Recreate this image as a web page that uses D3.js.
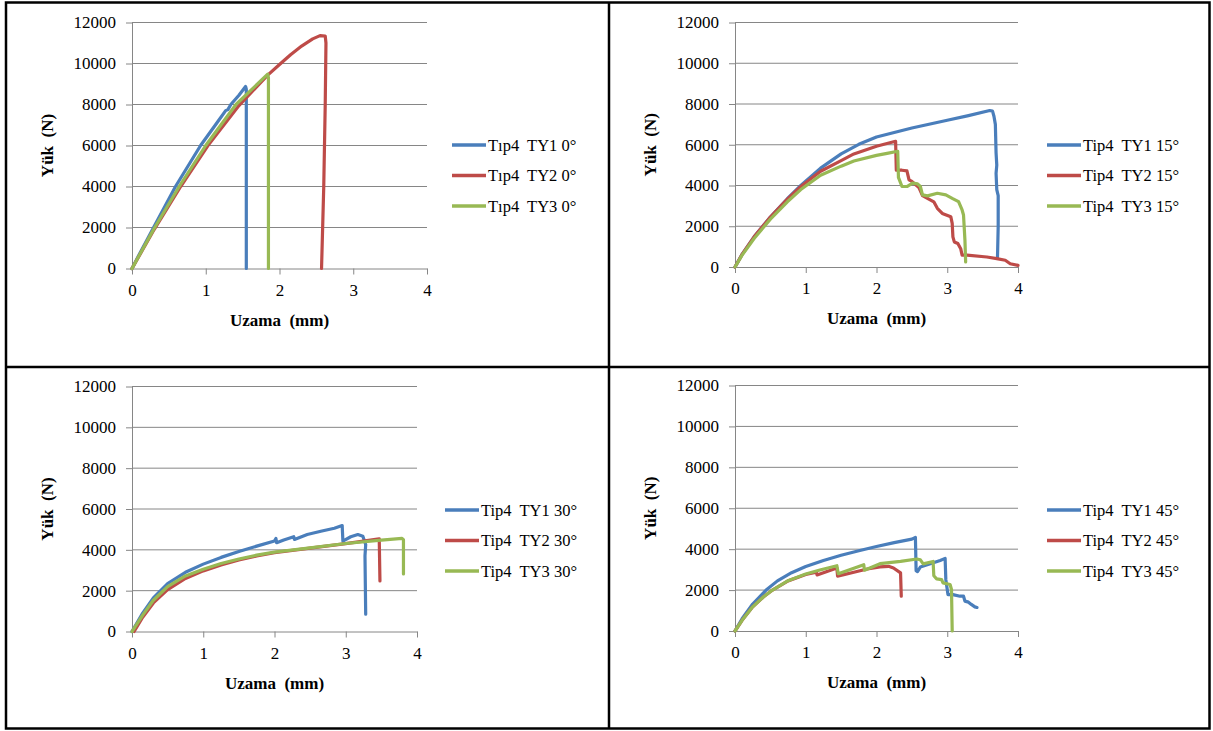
<!DOCTYPE html>
<html>
<head>
<meta charset="utf-8">
<script src="https://cdn.jsdelivr.net/npm/d3@7"></script>
<style>
  body { margin: 0; background: #fff; }
</style>
</head>
<body>
<svg id="fig" width="1213" height="731"></svg>
<script>
// ---- data ----
const xTicks = [0, 1, 2, 3, 4];
const yTicks = [0, 2000, 4000, 6000, 8000, 10000, 12000];
const seriesNames = ['TY1', 'TY2', 'TY3'];
const angles = ['0', '15', '30', '45'];
const prefixes = ['Tıp4', 'Tip4', 'Tip4', 'Tip4'];
const xTitle = 'Uzama  (mm)';
const yTitle = 'Yük  (N)';

// 0 degrees
const ty1_0 = [[0,0],[0.1,700],[0.3,2050],[0.59,4000],[0.93,6000],[1.15,7100],[1.27,7700],[1.3,7750],[1.34,8000],[1.45,8450],[1.54,8880],[1.55,8750],[1.55,0]];
const ty2_0 = [[0,0],[0.3,1900],[0.66,4000],[1.03,6000],[1.45,7950],[1.84,9430],[2.0,9950],[2.15,10430],[2.3,10850],[2.45,11200],[2.55,11360],[2.62,11340],[2.63,11000],[2.62,8000],[2.6,4000],[2.57,0]];
const ty3_0 = [[0,0],[0.3,1950],[0.64,4000],[1.0,6000],[1.41,8000],[1.84,9480],[1.85,9300],[1.85,0]];

// 15 degrees
const ty1_15 = [[0,0],[0.1,620],[0.27,1480],[0.5,2450],[0.74,3350],[0.93,4000],[1.21,4850],[1.5,5550],[1.75,6020],[2.0,6380],[2.5,6820],[3.0,7200],[3.3,7430],[3.6,7680],[3.64,7650],[3.66,7400],[3.68,7000],[3.69,5600],[3.7,5000],[3.69,4600],[3.7,3800],[3.72,3500],[3.72,2000],[3.71,450]];
const ty2_15 = [[0,0],[0.1,620],[0.27,1480],[0.5,2450],[0.74,3330],[0.93,3950],[1.21,4700],[1.5,5220],[1.68,5550],[2.0,5930],[2.27,6170],[2.28,4750],[2.36,4750],[2.43,4720],[2.46,4280],[2.5,4200],[2.6,3900],[2.65,3500],[2.72,3370],[2.81,3200],[2.86,2880],[2.93,2630],[3.05,2470],[3.07,2140],[3.08,1480],[3.1,1230],[3.15,1150],[3.19,900],[3.21,580],[3.28,580],[3.56,490],[3.7,410],[3.82,330],[3.89,160],[4.0,80]];
const ty3_15 = [[0,0],[0.1,580],[0.27,1400],[0.5,2350],[0.74,3200],[0.93,3800],[1.21,4500],[1.5,4950],[1.68,5200],[2.0,5480],[2.15,5580],[2.3,5680],[2.31,4400],[2.36,3950],[2.43,3950],[2.51,4120],[2.58,4080],[2.62,3950],[2.65,3540],[2.72,3490],[2.86,3620],[2.98,3540],[3.07,3370],[3.16,3210],[3.21,2800],[3.23,2550],[3.25,1320],[3.26,250]];

// 30 degrees
const ty1_30 = [[0,0],[0.15,900],[0.3,1650],[0.5,2350],[0.75,2900],[1.0,3300],[1.25,3630],[1.5,3920],[1.75,4180],[2.0,4430],[2.02,4560],[2.03,4350],[2.13,4480],[2.27,4640],[2.28,4510],[2.46,4750],[2.65,4910],[2.84,5060],[2.95,5190],[2.96,4430],[3.07,4640],[3.17,4750],[3.24,4670],[3.28,4260],[3.27,3700],[3.28,850]];
const ty2_30 = [[0.03,0],[0.15,700],[0.3,1400],[0.5,2050],[0.75,2600],[1.0,2970],[1.25,3260],[1.5,3500],[1.75,3700],[2.0,3860],[2.5,4080],[3.0,4300],[3.47,4540],[3.48,2480]];
const ty3_30 = [[0,0],[0.15,800],[0.3,1530],[0.5,2200],[0.75,2720],[1.0,3050],[1.25,3330],[1.5,3550],[1.75,3740],[2.0,3890],[2.5,4100],[3.0,4310],[3.5,4480],[3.79,4560],[3.81,4500],[3.81,2820]];

// 45 degrees
const ty1_45 = [[0,0],[0.1,600],[0.25,1320],[0.44,2000],[0.6,2450],[0.8,2850],[1.0,3150],[1.25,3450],[1.5,3700],[1.75,3920],[2.0,4130],[2.25,4320],[2.5,4490],[2.55,4570],[2.56,2950],[2.58,2900],[2.62,3130],[2.76,3290],[2.9,3450],[2.97,3550],[2.98,2510],[3.0,2030],[3.01,1780],[3.08,1780],[3.18,1700],[3.23,1700],[3.25,1460],[3.3,1410],[3.34,1300],[3.39,1180],[3.42,1150]];
const ty2_45 = [[0,0],[0.1,520],[0.25,1180],[0.4,1660],[0.53,2000],[0.75,2450],[1.0,2760],[1.15,2880],[1.16,2740],[1.44,3080],[1.45,2680],[1.68,2870],[1.87,3030],[2.05,3130],[2.17,3160],[2.24,3080],[2.34,2840],[2.35,1700]];
const ty3_45 = [[0,0],[0.1,520],[0.25,1180],[0.4,1660],[0.53,2000],[0.75,2460],[1.0,2790],[1.2,2980],[1.44,3190],[1.46,2800],[1.82,3240],[1.83,2970],[2.05,3290],[2.34,3400],[2.57,3520],[2.62,3480],[2.66,3280],[2.8,3400],[2.81,2700],[2.85,2550],[2.92,2510],[2.94,2350],[3.04,2270],[3.06,2030],[3.07,0]];

const panelSeries = [
  [ty1_0, ty2_0, ty3_0],
  [ty1_15, ty2_15, ty3_15],
  [ty1_30, ty2_30, ty3_30],
  [ty1_45, ty2_45, ty3_45]
];

// ---- layout ----
const FONT = '"Liberation Serif"';
const colors = ['#4A7EBB', '#BE4B48', '#98B954'];
const gridColor = '#868686';
const panels = [
  { left: 132, right: 427, top: 22.5, bottom: 268.5, legX: 452, legY: 145 },
  { left: 735, right: 1018, top: 22.5, bottom: 267, legX: 1047, legY: 145 },
  { left: 132, right: 417, top: 386.5, bottom: 631.5, legX: 445, legY: 510 },
  { left: 735, right: 1018, top: 385.5, bottom: 631, legX: 1047, legY: 510 }
];

const svg = d3.select('#fig');

// table frame
svg.append('rect')
  .attr('x', 6).attr('y', 2.5).attr('width', 1203.5).attr('height', 726)
  .attr('fill', 'none').attr('stroke', '#000').attr('stroke-width', 2.5);
svg.append('line').attr('x1', 609).attr('x2', 609).attr('y1', 2).attr('y2', 729)
  .attr('stroke', '#000').attr('stroke-width', 2.5);
svg.append('line').attr('x1', 6).attr('x2', 1210).attr('y1', 367).attr('y2', 367)
  .attr('stroke', '#000').attr('stroke-width', 2.5);

panels.forEach((p, i) => {
  const x = d3.scaleLinear().domain([0, 4]).range([p.left, p.right]);
  const y = d3.scaleLinear().domain([0, 12000]).range([p.bottom, p.top]);
  const g = svg.append('g');

  // gridlines
  g.selectAll('line.grid')
    .data(yTicks.filter(v => v > 0))
    .join('line')
    .attr('class', 'grid')
    .attr('x1', p.left).attr('x2', p.right)
    .attr('y1', d => y(d)).attr('y2', d => y(d))
    .attr('stroke', gridColor).attr('stroke-width', 1);

  // y axis
  g.append('g')
    .attr('transform', `translate(${p.left},0)`)
    .call(d3.axisLeft(y).tickValues(yTicks).tickSize(6).tickSizeOuter(0).tickPadding(10).tickFormat(d3.format('d')))
    .call(ax => ax.select('.domain').attr('stroke', gridColor))
    .call(ax => ax.selectAll('.tick line').attr('stroke', gridColor))
    .call(ax => ax.selectAll('text').style('font-family', FONT).attr('font-size', '17px').attr('fill', '#000'));

  // x axis
  g.append('g')
    .attr('transform', `translate(0,${p.bottom})`)
    .call(d3.axisBottom(x).tickValues(xTicks).tickSize(6).tickSizeOuter(0).tickPadding(9).tickFormat(d3.format('d')))
    .call(ax => ax.select('.domain').attr('stroke', gridColor))
    .call(ax => ax.selectAll('.tick line').attr('stroke', gridColor))
    .call(ax => ax.selectAll('text').style('font-family', FONT).attr('font-size', '17px').attr('fill', '#000'));

  // axis titles
  g.append('text')
    .attr('x', (p.left + p.right) / 2).attr('y', p.bottom + 57)
    .attr('text-anchor', 'middle')
    .style('font-family', FONT).attr('font-size', '17px').attr('font-weight', 'bold')
    .style('white-space', 'pre')
    .text(xTitle);
  g.append('text')
    .attr('transform', `translate(${p.left - 79},${(p.top + p.bottom) / 2}) rotate(-90)`)
    .attr('text-anchor', 'middle')
    .style('font-family', FONT).attr('font-size', '17px').attr('font-weight', 'bold')
    .style('white-space', 'pre')
    .text(yTitle);

  // curves
  const line = d3.line().x(d => x(d[0])).y(d => y(d[1]));
  panelSeries[i].forEach((s, k) => {
    g.append('path')
      .datum(s)
      .attr('d', line)
      .attr('fill', 'none')
      .attr('stroke', colors[k])
      .attr('stroke-width', 3.2)
      .attr('stroke-linejoin', 'round')
      .attr('stroke-linecap', 'round');
  });

  // legend
  seriesNames.forEach((name, k) => {
    const ly = p.legY + k * 30.5;
    g.append('line')
      .attr('x1', p.legX).attr('x2', p.legX + 34)
      .attr('y1', ly).attr('y2', ly)
      .attr('stroke', colors[k]).attr('stroke-width', 3.5);
    g.append('text')
      .attr('x', p.legX + 36).attr('y', ly).attr('dy', '0.35em')
      .style('font-family', FONT).attr('font-size', '16.5px')
      .style('white-space', 'pre')
      .text(`${prefixes[i]}  ${name} ${angles[i]}°`);
  });
});
</script>
</body>
</html>
